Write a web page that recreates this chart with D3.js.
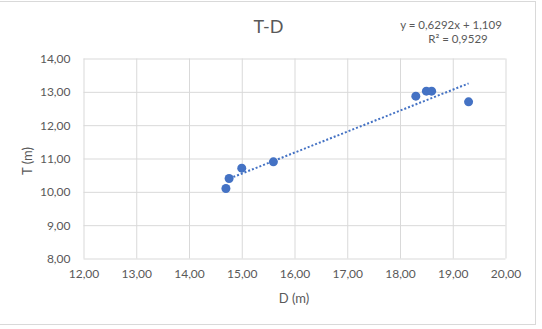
<!DOCTYPE html>
<html><head><meta charset="utf-8">
<script src="https://cdn.jsdelivr.net/npm/d3@7"></script>
<style>body{margin:0;background:#fff}svg{display:block}</style>
</head><body>
<script>
const dValues = [14.70, 14.76, 15.00, 15.60, 18.30, 18.50, 18.60, 19.30];
const tValues = [10.10, 10.40, 10.71, 10.90, 12.87, 13.02, 13.02, 12.70];
const xTicks = [12, 13, 14, 15, 16, 17, 18, 19, 20];
const yTicks = [8, 9, 10, 11, 12, 13, 14];
const slope = 0.6292, intercept = 1.109;
const title = "T-D", xLabel = "D (m)", yLabel = "T (m)";
const eqLines = ["y = 0,6292x + 1,109", "R² = 0,9529"];

const W = 542, H = 329;
const font = "Lato, 'Open Sans', sans-serif";
const svg = d3.select("body").append("svg").attr("width", W).attr("height", H);
svg.append("rect").attr("x", -5).attr("y", 1.5).attr("width", 540.5).attr("height", 323)
  .attr("fill", "#fff").attr("stroke", "#d9d9d9");

const x = d3.scaleLinear().domain([12, 20]).range([83.5, 505.5]);
const y = d3.scaleLinear().domain([8, 14]).range([258.5, 58.5]);
const fmt = v => v.toFixed(2).replace(".", ",");

const gx = svg.append("g").attr("transform", `translate(0,${y(8)})`)
  .call(d3.axisBottom(x).tickValues(xTicks).tickFormat(fmt).tickSize(-(y(8) - y(14))).tickPadding(11));
const gy = svg.append("g").attr("transform", `translate(${x(12)},0)`)
  .call(d3.axisLeft(y).tickValues(yTicks).tickFormat(fmt).tickSize(-(x(20) - x(12))).tickPadding(13));
[gx, gy].forEach(g => {
  g.select(".domain").remove();
  g.selectAll(".tick line").attr("stroke", "#d9d9d9");
  g.selectAll(".tick text").attr("fill", "#595959").style("font-family", font).style("font-size", "12px");
});

const x0 = d3.min(dValues), x1 = d3.max(dValues);
svg.append("line")
  .attr("x1", x(x0)).attr("y1", y(slope * x0 + intercept))
  .attr("x2", x(x1)).attr("y2", y(slope * x1 + intercept))
  .attr("stroke", "#4472c4").attr("stroke-width", 2).attr("stroke-dasharray", "2,2");

svg.append("g").selectAll("circle").data(dValues).join("circle")
  .attr("cx", d => x(d)).attr("cy", (d, i) => y(tValues[i])).attr("r", 4.5)
  .attr("fill", "#4472c4");

svg.append("text").attr("x", 268.5).attr("y", 33).attr("text-anchor", "middle")
  .attr("fill", "#595959").style("font-family", font).style("font-size", "18px").text(title);
svg.append("text").attr("x", 294).attr("y", 303).attr("text-anchor", "middle")
  .attr("fill", "#595959").style("font-family", font).style("font-size", "13px").text(xLabel);
svg.append("text").attr("transform", "translate(32,161) rotate(-90)").attr("text-anchor", "middle")
  .attr("fill", "#595959").style("font-family", font).style("font-size", "13px").text(yLabel);
svg.append("g").selectAll("text").data(eqLines).join("text")
  .attr("x", (d, i) => i === 0 ? 451 : 458).attr("y", (d, i) => 29 + i * 14).attr("text-anchor", "middle")
  .attr("fill", "#595959").style("font-family", font).style("font-size", "11.5px").text(d => d);
</script>
</body></html>
